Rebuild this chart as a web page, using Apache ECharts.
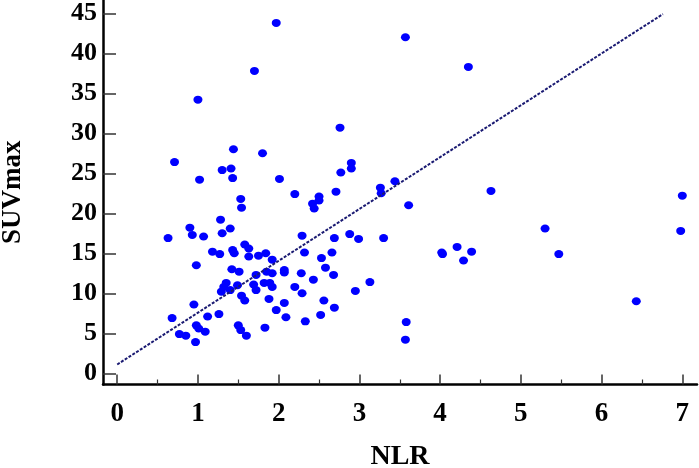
<!DOCTYPE html>
<html>
<head>
<meta charset="utf-8">
<script src="https://cdn.jsdelivr.net/npm/echarts@6/dist/echarts.min.js"></script>
<style>
html,body{margin:0;padding:0;background:#fff;}
#chart{width:699px;height:468px;}
</style>
</head>
<body>
<div id="chart"></div>
<script>
// NLR values (x)
var nlr = [
  1.00, 1.97, 1.70, 3.57, 4.35, 2.76,
  1.44, 1.80, 0.71, 1.30, 1.41, 1.43, 1.02, 2.01, 1.53, 1.54, 2.20, 2.42, 2.44, 2.50, 2.50,
  2.90, 2.90, 2.77, 2.71, 3.26, 3.27, 3.44, 3.61, 4.63, 7.00,
  1.28, 0.90, 1.40, 0.93, 1.07, 1.30, 0.63, 2.29, 2.69, 2.88, 2.99, 3.30,
  1.58, 1.63, 1.18, 1.27, 1.43, 1.45, 1.63, 1.75, 1.84, 1.92, 2.32, 2.53, 2.66, 2.58, 2.68,
  0.98, 1.42, 1.51, 1.72, 1.85, 1.92, 2.07, 2.07, 2.28, 2.43, 2.20, 2.29, 2.95, 3.13,
  1.35, 1.32, 1.29, 1.40, 1.49, 1.69, 1.72, 1.82, 1.89, 1.92, 1.54, 1.58, 1.88, 2.07, 2.56, 2.69,
  1.97, 2.09, 2.52, 2.33, 0.95, 1.26, 1.12, 0.68, 0.98, 1.01, 1.09, 0.77, 0.85, 0.97,
  1.50, 1.53, 1.60, 1.83, 3.58, 3.57,
  4.02, 4.03, 4.21, 4.39, 4.29, 5.30, 5.47, 6.43, 6.98
];
// SUVmax values (y)
var suvmax = [
  34.2, 43.8, 37.8, 42.0, 38.3, 30.7,
  28.0, 27.5, 26.4, 25.4, 25.6, 24.4, 24.2, 24.3, 21.8, 20.7, 22.4, 21.2, 20.6, 22.1, 21.6,
  26.3, 25.6, 25.1, 22.7, 23.2, 22.5, 24.0, 21.0, 22.8, 22.2,
  19.2, 18.2, 18.1, 17.3, 17.1, 17.5, 16.9, 17.2, 16.9, 17.4, 16.8, 16.9,
  16.1, 15.6, 15.2, 14.9, 15.4, 15.0, 14.6, 14.7, 15.0, 14.2, 15.1, 14.4, 15.1, 13.2, 12.3,
  13.5, 13.0, 12.7, 12.3, 12.7, 12.5, 12.9, 12.6, 12.5, 11.7, 10.8, 10.0, 10.3, 11.4,
  11.3, 10.8, 10.2, 10.4, 11.0, 11.1, 10.4, 11.3, 11.3, 10.8, 9.7, 9.1, 9.3, 8.8, 9.1, 8.2,
  7.9, 7.0, 7.3, 6.5, 8.6, 7.4, 7.1, 6.9, 6.0, 5.6, 5.2, 4.9, 4.7, 3.9,
  6.0, 5.4, 4.7, 5.7, 6.4, 4.2,
  15.1, 14.9, 15.8, 15.2, 14.1, 18.1, 14.9, 9.0, 17.8
];
// Regression line end points
var lineX = [0, 6.76];
var lineY = [1.1, 44.9];
// Tick values and labels
var xTicks = [0, 1, 2, 3, 4, 5, 6, 7];
var xMinorTicks = [0.5, 1.5, 2.5, 3.5, 4.5, 5.5, 6.5];
var yTicks = [0, 5, 10, 15, 20, 25, 30, 35, 40, 45];
// Axis extents (axis lines run past the tick range)
var xMin = -0.176, xMax = 7.182;
var yMin = -1.4, yMax = 46.66;

var points = nlr.map(function (v, i) { return [v, suvmax[i]]; });
var linePts = lineX.map(function (v, i) { return [v, lineY[i]]; });

var fontFam = '"Liberation Serif","Times New Roman",serif';
var chart = echarts.init(document.getElementById('chart'));
chart.setOption({
  animation: false,
  backgroundColor: '#ffffff',
  grid: {left: 103, right: 2, top: 0, bottom: 83.5, containLabel: false, outerBoundsMode: 'none'},
  xAxis: [
    {
      type: 'value', min: xMin, max: xMax, position: 'bottom',
      axisLine: {show: true, onZero: false, lineStyle: {color: '#000', width: 2.5}},
      axisTick: {show: true, inside: true, length: 10, customValues: xTicks, lineStyle: {color: '#333', width: 1.5}},
      splitLine: {show: false},
      axisLabel: {color: '#000', fontFamily: fontFam, fontWeight: 'bold', fontSize: 27, margin: 16, customValues: xTicks},
      name: 'NLR', nameLocation: 'middle', nameGap: 58,
      nameTextStyle: {color: '#000', fontFamily: fontFam, fontWeight: 'bold', fontSize: 28}
    },
    {
      type: 'value', min: xMin, max: xMax, position: 'bottom', offset: 0,
      axisLine: {show: false, onZero: false},
      axisTick: {show: true, inside: true, length: 5, customValues: xMinorTicks, lineStyle: {color: '#333', width: 1.2}},
      splitLine: {show: false},
      axisLabel: {show: false}
    }
  ],
  yAxis: {
    type: 'value', min: yMin, max: yMax,
    axisLine: {show: true, onZero: false, lineStyle: {color: '#000', width: 2.5}},
    axisTick: {show: true, inside: true, length: 13, customValues: yTicks, lineStyle: {color: '#333', width: 1.5}},
    splitLine: {show: false},
    axisLabel: {color: '#000', fontFamily: fontFam, fontWeight: 'bold', fontSize: 26, margin: 6, padding: [3, 0, 0, 0], customValues: yTicks},
    name: 'SUVmax', nameLocation: 'middle', nameGap: 76, nameRotate: 90,
    nameTextStyle: {color: '#000', fontFamily: fontFam, fontWeight: 'bold', fontSize: 27}
  },
  series: [
    {
      type: 'scatter', xAxisIndex: 0, yAxisIndex: 0,
      data: points, symbol: 'circle', symbolSize: [9, 8],
      itemStyle: {color: '#0000ff', opacity: 1}, z: 2
    },
    {
      type: 'line', xAxisIndex: 0, yAxisIndex: 0,
      data: linePts, symbol: 'none', silent: true,
      lineStyle: {color: '#1a1a72', width: 2, type: [3, 1.5]}, z: 3
    }
  ]
});
</script>
</body>
</html>
